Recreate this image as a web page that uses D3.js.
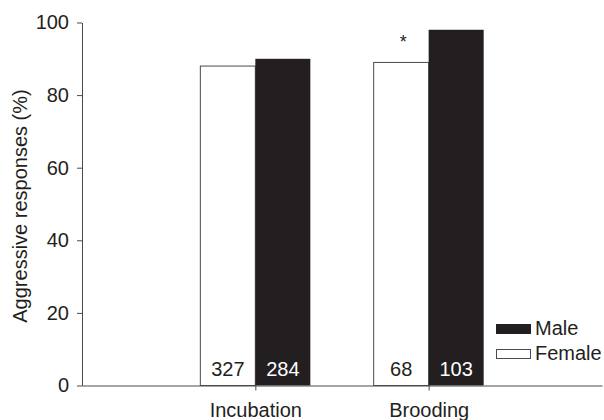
<!DOCTYPE html>
<html>
<head>
<meta charset="utf-8">
<script src="https://cdnjs.cloudflare.com/ajax/libs/d3/7.8.5/d3.min.js"></script>
<style>
    body { margin: 0; background: #fff; }
    svg { display: block; font-family: "Liberation Sans", Arial, sans-serif; }
</style>
</head>
<body>
<svg id="chart" width="604" height="420"></svg>
<script>
/*global d3*/

//data
var stages = ["Incubation", "Brooding"],
    femaleValues = [88, 89],
    maleValues = [90, 98],
    femaleCounts = ["327", "68"],
    maleCounts = ["284", "103"],
    significant = [false, true], //asterisk over the female bar
    yTicks = [0, 20, 40, 60, 80, 100],
    legendLabels = ["Male", "Female"];

var ink = "#231f20",
    axisColor = "#4a4a4a",
    svg = d3.select("#chart"),
    plotLeft = 82,
    plotRight = 602,
    plotTop = 22.5,
    plotBottom = 385.5,
    barWidth = 55;

var y = d3.scaleLinear()
    .domain([0, 100])
    .range([plotBottom, plotTop]);
var x = d3.scalePoint()
    .domain(stages)
    .range([plotLeft, plotRight])
    .padding(1);

//y axis
var yAxis = d3.axisLeft(y)
    .tickValues(yTicks)
    .tickSize(5)
    .tickSizeOuter(0)
    .tickPadding(8);
var gy = svg.append("g")
    .attr("transform", "translate(" + plotLeft + ",0)")
    .call(yAxis);
gy.select(".domain").attr("stroke", axisColor);
gy.selectAll(".tick line").attr("stroke", axisColor);
gy.selectAll(".tick text")
    .attr("fill", ink)
    .attr("font-size", 20)
    .attr("font-family", "Liberation Sans, Arial, sans-serif");

svg.append("text")
    .attr("transform", "translate(27," + ((plotTop + plotBottom) / 2 + 2) + ") rotate(-90)")
    .attr("text-anchor", "middle")
    .attr("font-size", 20)
    .attr("fill", ink)
    .text("Aggressive responses (%)");

//bars
var groups = svg.selectAll("g.stage")
    .data(stages)
    .enter().append("g")
        .attr("class", "stage");

groups.append("rect")
    .attr("x", function (d) { return x(d) - barWidth; })
    .attr("y", function (d, i) { return y(femaleValues[i]); })
    .attr("width", barWidth)
    .attr("height", function (d, i) { return plotBottom - y(femaleValues[i]); })
    .attr("fill", "#fff")
    .attr("stroke", axisColor)
    .attr("stroke-width", 1);

groups.append("rect")
    .attr("x", function (d) { return x(d); })
    .attr("y", function (d, i) { return y(maleValues[i]); })
    .attr("width", barWidth)
    .attr("height", function (d, i) { return plotBottom - y(maleValues[i]); })
    .attr("fill", ink);

groups.append("text")
    .attr("x", function (d) { return x(d) - barWidth / 2; })
    .attr("y", plotBottom - 9.5)
    .attr("text-anchor", "middle")
    .attr("font-size", 20)
    .attr("fill", ink)
    .text(function (d, i) { return femaleCounts[i]; });

groups.append("text")
    .attr("x", function (d) { return x(d) + barWidth / 2; })
    .attr("y", plotBottom - 9.5)
    .attr("text-anchor", "middle")
    .attr("font-size", 20)
    .attr("fill", "#fff")
    .text(function (d, i) { return maleCounts[i]; });

groups.filter(function (d, i) { return significant[i]; })
    .append("text")
    .attr("x", function (d) { return x(d) - barWidth / 2 + 2; })
    .attr("y", function (d) { return y(femaleValues[stages.indexOf(d)]) - 14; })
    .attr("text-anchor", "middle")
    .attr("font-size", 18)
    .attr("fill", ink)
    .text("*");

//x axis drawn after bars so the baseline sits on top
var xAxis = d3.axisBottom(x)
    .tickSize(5)
    .tickSizeOuter(0)
    .tickPadding(12);
var gx = svg.append("g")
    .attr("transform", "translate(0," + plotBottom + ")")
    .call(xAxis);
gx.select(".domain").attr("stroke", axisColor);
gx.selectAll(".tick line").attr("stroke", axisColor);
gx.selectAll(".tick text")
    .attr("fill", ink)
    .attr("font-size", 20)
    .attr("font-family", "Liberation Sans, Arial, sans-serif");

//legend
var legend = svg.append("g")
    .attr("transform", "translate(496,324)");
legend.selectAll("rect")
    .data(legendLabels)
    .enter().append("rect")
        .attr("x", function (d, i) { return i === 0 ? 0 : 0.5; })
        .attr("y", function (d, i) { return i === 0 ? 0 : 25.5; })
        .attr("width", function (d, i) { return i === 0 ? 35 : 34; })
        .attr("height", function (d, i) { return i === 0 ? 10 : 9; })
        .attr("fill", function (d, i) { return i === 0 ? ink : "#fff"; })
        .attr("stroke", function (d, i) { return i === 0 ? "none" : axisColor; });
legend.selectAll("text")
    .data(legendLabels)
    .enter().append("text")
        .attr("x", 39)
        .attr("y", function (d, i) { return 10.5 + i * 25; })
        .attr("font-size", 20)
        .attr("fill", ink)
        .text(function (d) { return d; });
</script>
</body>
</html>
